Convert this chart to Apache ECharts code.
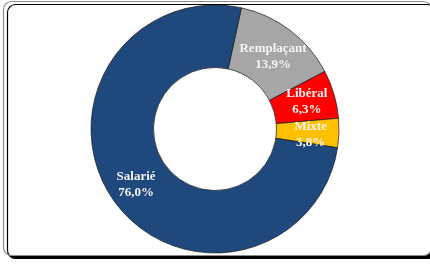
<!DOCTYPE html>
<html>
<head>
<meta charset="utf-8">
<script src="https://cdn.jsdelivr.net/npm/echarts@6/dist/echarts.min.js"></script>
<style>
  html, body { margin: 0; padding: 0; background: #fff; }
  #main { width: 430px; height: 264px; }
</style>
</head>
<body>
<div id="main"></div>
<script>
// catégories et parts (%) dans l'ordre horaire depuis le haut
var categories = ['Remplaçant', 'Libéral', 'Mixte', 'Salarié'];
var values = [13.9, 6.3, 3.8, 76.0];
var colors = ['#A6A6A6', '#FF0000', '#FFC000', '#1F497D'];
// petit décalage vertical des étiquettes (px)
var labelShift = [4, 0, 3, 1];

var chart = echarts.init(document.getElementById('main'));

var pieData = categories.map(function (name, i) {
    return { name: name, value: values[i], itemStyle: { color: colors[i] } };
});

chart.setOption({
    animation: false,
    // cadre arrondi avec ombre
    graphic: [{
        type: 'rect',
        z: -10,
        shape: { x: 3.5, y: 1.5, width: 428, height: 254, r: 8 },
        style: {
            fill: '#fff',
            stroke: '#8c8c8c',
            lineWidth: 1.2,
            shadowColor: '#000',
            shadowBlur: 0,
            shadowOffsetX: 4,
            shadowOffsetY: 3
        }
    }],
    series: [{
        type: 'pie',
        center: [215, 129],
        radius: [61.5, 124],
        startAngle: 77.7,
        clockwise: true,
        avoidLabelOverlap: false,
        itemStyle: { borderColor: '#1a1a1a', borderWidth: 0.7 },
        label: {
            show: true,
            position: 'inside',
            overflow: 'none',
            color: '#f4f4f4',
            fontFamily: 'Liberation Serif',
            fontWeight: 'bold',
            fontSize: 13,
            lineHeight: 16,
            formatter: function (p) {
                return p.name + '\n' + p.value.toFixed(1).replace('.', ',') + '%';
            }
        },
        labelLayout: function (p) {
            return { dy: labelShift[p.dataIndex], hideOverlap: false };
        },
        labelLine: { show: false },
        emphasis: { disabled: true },
        data: pieData
    }]
});
</script>
</body>
</html>
